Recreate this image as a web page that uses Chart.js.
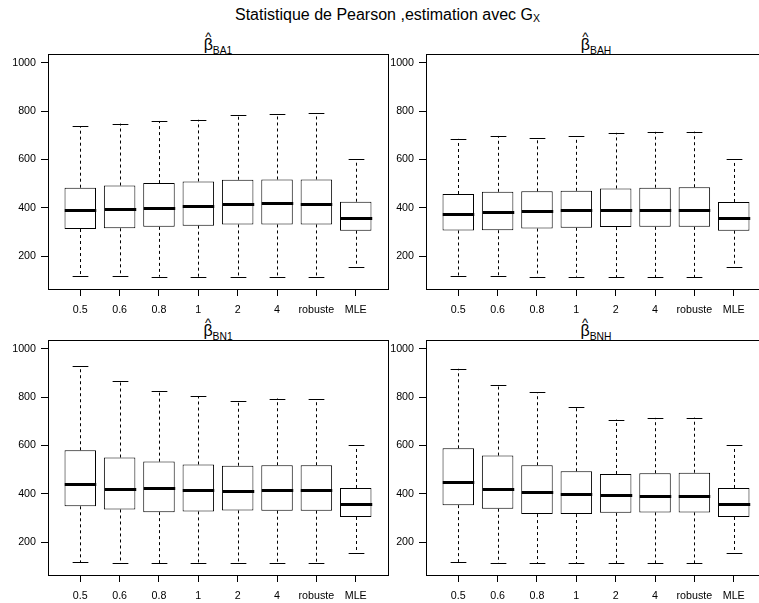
<!DOCTYPE html>
<html><head><meta charset="utf-8">
<script src="https://cdn.jsdelivr.net/npm/chart.js@4"></script>
<style>
html,body{margin:0;padding:0;background:#fff;overflow:hidden;width:759px;height:603px;}
body{position:relative;font-family:'Liberation Sans',Arial,sans-serif;color:#000;}
canvas{position:absolute;}
.title{position:absolute;left:235px;top:7.2px;font-size:16px;line-height:16px;white-space:nowrap;}
.title .s{font-size:10.5px;vertical-align:-1.6px;}
.pt{position:absolute;font-size:16px;line-height:16px;white-space:nowrap;transform:translateX(-50%);}
.pt .b{position:relative;}
.pt .h{position:absolute;left:50%;top:-5.7px;transform:translateX(-50%);font-size:13px;line-height:13px;}
.pt .s{font-size:10.3px;vertical-align:-3.5px;}
</style></head><body>
<div class="title">Statistique de Pearson ,estimation avec G<span class="s">X</span></div>
<div class="pt" style="left:218px;top:36.5px"><span class="b">β<span class="h">^</span></span><span class="s">BA1</span></div>
<div class="pt" style="left:596px;top:36.5px"><span class="b">β<span class="h">^</span></span><span class="s">BAH</span></div>
<div class="pt" style="left:218px;top:322.5px"><span class="b">β<span class="h">^</span></span><span class="s">BN1</span></div>
<div class="pt" style="left:596px;top:322.5px"><span class="b">β<span class="h">^</span></span><span class="s">BNH</span></div>
<canvas id="c1" width="400" height="280" style="left:0;top:40px"></canvas>
<canvas id="c2" width="400" height="280" style="left:380px;top:40px"></canvas>
<canvas id="c3" width="400" height="280" style="left:0;top:326px"></canvas>
<canvas id="c4" width="400" height="280" style="left:380px;top:326px"></canvas>
<script>
const categories = ['0.5','0.6','0.8','1','2','4','robuste','MLE'];
const yTicks = [200, 400, 600, 800, 1000];
const yLim = [100, 1000];

const ba1Low  = [119, 116, 115, 115, 113, 113, 113, 157];
const ba1Q1   = [312, 315, 321, 326, 331, 331, 331, 305];
const ba1Med  = [390, 396, 401, 406, 417, 418, 416, 357];
const ba1Q3   = [483, 492, 502, 509, 516, 517, 517, 425];
const ba1High = [738, 748, 759, 764, 783, 789, 792, 601];

const bahLow  = [119, 116, 115, 115, 113, 113, 113, 157];
const bahQ1   = [306, 307, 314, 317, 320, 321, 321, 305];
const bahMed  = [374, 382, 388, 389, 390, 390, 390, 357];
const bahQ3   = [457, 466, 468, 470, 480, 483, 485, 424];
const bahHigh = [685, 697, 689, 696, 710, 714, 715, 601];

const bn1Low  = [117, 114, 113, 112, 112, 112, 112, 157];
const bn1Q1   = [348, 335, 324, 327, 331, 330, 330, 304];
const bn1Med  = [442, 418, 422, 414, 411, 414, 416, 357];
const bn1Q3   = [580, 550, 533, 521, 516, 518, 518, 424];
const bn1High = [928, 866, 826, 804, 782, 794, 791, 601];

const bnhLow  = [118, 114, 113, 112, 112, 112, 112, 157];
const bnhQ1   = [353, 338, 316, 316, 321, 323, 323, 304];
const bnhMed  = [447, 418, 406, 398, 395, 392, 391, 357];
const bnhQ3   = [588, 558, 518, 493, 482, 485, 487, 424];
const bnhHigh = [917, 849, 819, 760, 707, 714, 715, 601];

Chart.defaults.font.family = "'Liberation Sans', Arial, sans-serif";
Chart.defaults.font.size = 10.7;
Chart.defaults.color = '#000';

function makePanel(id, low, q1, med, q3, high, yw, pr) {
  const n = categories.length;
  const xVals = categories.map((c, i) => i + 1);
  const xPad = 0.04 * n;
  const yPad = 0.04 * (yLim[1] - yLim[0]);
  const crisp = v => Math.round(v) + 0.5;
  const plugin = {
    id: 'boxExtras',
    afterDatasetsDraw(chart) {
      const {ctx, chartArea: a, scales: {x, y}} = chart;
      const boxW = (x.getPixelForValue(2) - x.getPixelForValue(1)) * 0.8;
      ctx.save();
      ctx.strokeStyle = '#000';
      for (let i = 0; i < n; i++) {
        const px = crisp(x.getPixelForValue(xVals[i]));
        ctx.lineWidth = 1;
        ctx.setLineDash([3, 3]);
        ctx.beginPath();
        ctx.moveTo(px, y.getPixelForValue(q3[i]));
        ctx.lineTo(px, y.getPixelForValue(high[i]));
        ctx.moveTo(px, y.getPixelForValue(q1[i]));
        ctx.lineTo(px, y.getPixelForValue(low[i]));
        ctx.stroke();
        ctx.setLineDash([]);
        ctx.beginPath();
        const yh = crisp(y.getPixelForValue(high[i]));
        const yl = crisp(y.getPixelForValue(low[i]));
        ctx.moveTo(px - boxW / 4, yh); ctx.lineTo(px + boxW / 4, yh);
        ctx.moveTo(px - boxW / 4, yl); ctx.lineTo(px + boxW / 4, yl);
        ctx.stroke();
        ctx.lineWidth = 3;
        ctx.beginPath();
        const ym = Math.round(y.getPixelForValue(med[i])) + 0.5;
        ctx.moveTo(px - boxW / 2, ym); ctx.lineTo(px + boxW / 2, ym);
        ctx.stroke();
      }
      ctx.lineWidth = 1;
      ctx.strokeRect(crisp(a.left), crisp(a.top), Math.round(a.right - a.left), Math.round(a.bottom - a.top));
      ctx.restore();
    }
  };
  new Chart(document.getElementById(id), {
    type: 'bar',
    data: {
      datasets: [{
        data: xVals.map((v, i) => ({x: v, y: [q1[i], q3[i]]})),
        backgroundColor: '#fff',
        borderColor: '#000',
        borderWidth: 1,
        borderSkipped: false,
        barPercentage: 0.8,
        categoryPercentage: 1
      }]
    },
    options: {
      responsive: false,
      animation: false,
      events: [],
      layout: {padding: {top: 14, right: pr, bottom: 0, left: 0}},
      plugins: {legend: {display: false}, tooltip: {enabled: false}, title: {display: false}},
      scales: {
        x: {
          type: 'linear',
          min: 0.5 - xPad,
          max: n + 0.5 + xPad,
          offset: false,
          afterBuildTicks: s => { s.ticks = xVals.map(v => ({value: v})); },
          afterFit: s => { s.height = 31; },
          border: {display: false},
          grid: {display: true, offset: false, drawOnChartArea: false, drawTicks: true, tickLength: 7, color: '#000', lineWidth: 1},
          ticks: {autoSkip: false, maxRotation: 0, minRotation: 0, padding: 8,
                  callback: v => categories[Math.round(v) - 1]}
        },
        y: {
          type: 'linear',
          min: yLim[0] - yPad,
          max: yLim[1] + yPad,
          afterBuildTicks: s => { s.ticks = yTicks.map(v => ({value: v})); },
          afterFit: s => { s.width = yw; },
          border: {display: false},
          grid: {display: true, offset: false, drawOnChartArea: false, drawTicks: true, tickLength: 7, color: '#000', lineWidth: 1},
          ticks: {padding: 5, callback: v => String(v)}
        }
      }
    },
    plugins: [plugin]
  });
}

makePanel('c1', ba1Low, ba1Q1, ba1Med, ba1Q3, ba1High, 48, 12);
makePanel('c2', bahLow, bahQ1, bahMed, bahQ3, bahHigh, 46, 14);
makePanel('c3', bn1Low, bn1Q1, bn1Med, bn1Q3, bn1High, 48, 12);
makePanel('c4', bnhLow, bnhQ1, bnhMed, bnhQ3, bnhHigh, 46, 14);
</script>
</body></html>
